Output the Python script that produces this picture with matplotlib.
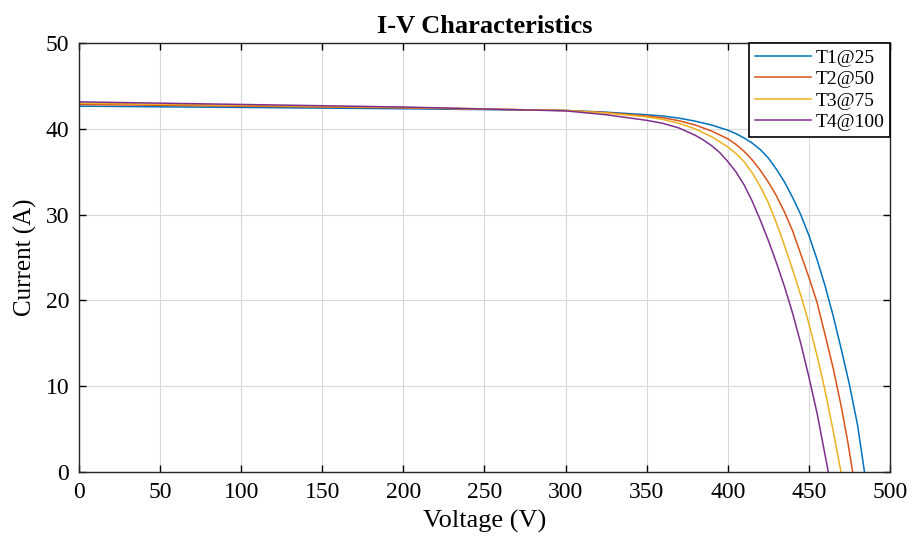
import matplotlib
matplotlib.use("Agg")
import matplotlib.pyplot as plt

plt.rcParams['font.family'] = ['Liberation Serif', 'DejaVu Serif']

# I-V curves (voltage in V, current in A)
v_t1 = [0, 100, 200, 300, 325, 350, 360, 370, 380, 390, 400, 405, 410, 415, 420, 425, 430,
        435, 440, 445, 450, 455, 460, 465, 470, 475, 480, 484.3]
i_t1 = [42.65, 42.5, 42.35, 42.15, 41.95, 41.65, 41.5, 41.25, 40.9, 40.45, 39.85, 39.45, 38.95,
        38.35, 37.6, 36.6, 35.3, 33.8, 32.0, 30.0, 27.6, 24.8, 21.7, 18.2, 14.3, 10.2, 5.5, 0]

v_t2 = [0, 100, 200, 300, 325, 350, 360, 370, 380, 390, 400, 405, 410, 415, 420, 425, 430,
        435, 440, 445, 450, 455, 460, 465, 470, 474, 477]
i_t2 = [42.85, 42.65, 42.45, 42.15, 41.9, 41.5, 41.3, 40.95, 40.45, 39.75, 38.85, 38.2, 37.4,
        36.4, 35.2, 33.8, 32.2, 30.3, 28.1, 25.4, 22.7, 19.8, 16.0, 12.1, 7.6, 3.5, 0]

v_t3 = [0, 100, 200, 300, 325, 350, 360, 370, 380, 390, 400, 405, 410, 415, 420, 425, 428,
        432, 437.5, 442, 446, 450, 453, 456, 459.4, 462, 465, 469.8]
i_t3 = [43.0, 42.75, 42.5, 42.15, 41.85, 41.4, 41.1, 40.65, 40.0, 39.1, 37.9, 37.15, 36.2,
        34.9, 33.3, 31.4, 30.0, 28.0, 25.0, 22.4, 20.0, 17.3, 15.1, 12.8, 10.0, 7.6, 4.8, 0]

v_t4 = [0, 100, 200, 300, 325, 350, 360, 370, 380, 385, 390, 395, 400, 405, 410, 415, 420,
        425, 430, 435, 440, 445, 450, 455, 462]
i_t4 = [43.15, 42.85, 42.55, 42.1, 41.65, 41.0, 40.65, 40.1, 39.25, 38.7, 38.05, 37.25, 36.2,
        35.0, 33.5, 31.6, 29.4, 27.0, 24.4, 21.6, 18.5, 15.0, 11.1, 6.9, 0]

labels = ['T1@25', 'T2@50', 'T3@75', 'T4@100']
colors = ['#0072BD', '#D95319', '#EDB120', '#7E2F8E']

fig = plt.figure(figsize=(9.14, 5.39), dpi=100)
ax = fig.add_axes([0.0864, 0.1243, 0.8873, 0.7957])

for v, i, lab, c in zip([v_t1, v_t2, v_t3, v_t4], [i_t1, i_t2, i_t3, i_t4], labels, colors):
    ax.plot(v, i, color=c, linewidth=1.1, label=lab)

ax.set_xlim(0, 500)
ax.set_ylim(0, 50)
ax.set_xticks(range(0, 501, 50))
ax.set_yticks(range(0, 51, 10))
ax.grid(True, color='#d9d9d9', linewidth=0.8)
ax.tick_params(direction='in', top=True, right=True, labelsize=17, length=5, width=1, pad=7)
for s in ax.spines.values():
    s.set_linewidth(1.0)
    s.set_color('#262626')

ax.set_xlabel('Voltage (V)', fontsize=19, labelpad=5)
ax.set_ylabel('Current (A)', fontsize=18, labelpad=6)
ax.set_title('I-V Characteristics', fontsize=19, fontweight='bold', pad=7)

leg = ax.legend(loc='upper right', fontsize=14, fancybox=False, framealpha=1,
                edgecolor='black', borderaxespad=0, handlelength=2.9,
                handletextpad=0.2, labelspacing=0.2, borderpad=0.3)
leg.get_frame().set_linewidth(1.2)

fig.savefig('out.png', dpi=100)
